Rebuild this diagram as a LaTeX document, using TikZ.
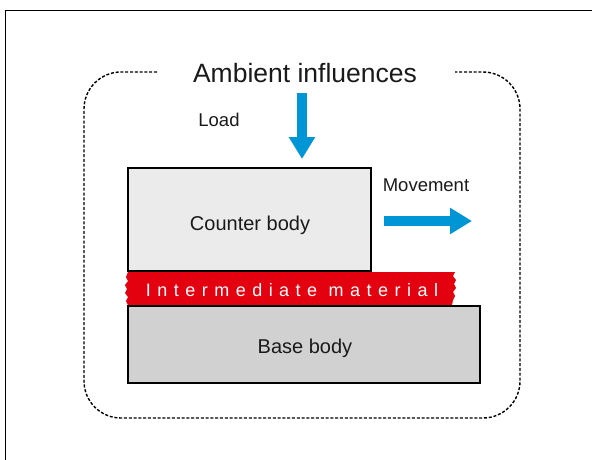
\documentclass[tikz,border=0pt]{standalone}
\usepackage{fontspec}
\setmainfont{Liberation Sans}
\newfontfamily\spacedfont[LetterSpace=36]{Liberation Sans}
\usetikzlibrary{arrows.meta}
\definecolor{arrowblue}{HTML}{0095D5}
\definecolor{bandred}{HTML}{E3000F}
\definecolor{counterfill}{HTML}{EBEBEB}
\definecolor{basefill}{HTML}{D0D1D0}
\definecolor{txt}{HTML}{1A1A1A}
\tikzset{
  body/.style={draw=black, line width=1.5pt, inner sep=0pt},
  lbl/.style={anchor=base, inner sep=0pt, text=txt},
  bluearrow/.style={draw=arrowblue, line width=10pt,
    -{Triangle[length=22pt,width=25pt]}},
  dashframe/.style={draw=black, line width=1.4pt, dash pattern=on 3pt off 1.8pt, rounded corners=37pt}
}
\begin{document}
\begin{tikzpicture}[x=1pt,y=-1pt]
\useasboundingbox (0,0) rectangle (592,459);
% outer frame
\draw[line width=1.5pt] (5.5,470) -- (5.5,10.5) -- (600,10.5);
% dashed ambient boundary
\draw[dashframe] (157,72) -- (84,72) -- (84,418) -- (520,418) -- (520,72) -- (455,72);
\node[lbl, font=\fontsize{26.5}{30}\selectfont] (title) at (305,82) {Ambient influences};
% load
\coordinate (loadtop) at (302,93);
\coordinate (loadtip) at (302,159);
\draw[bluearrow] (loadtop) -- (loadtip);
\node[lbl, font=\fontsize{18.5}{22}\selectfont] (load) at (219,126) {Load};
% intermediate material band
\fill[bandred] (128,272) -- (455,272) -- (453,276) -- (456,280) -- (454,284) -- (456,288)
  -- (453,292) -- (455,296) -- (453,300) -- (452,305) -- (128,305) -- (126,301) -- (128,297)
  -- (125,293) -- (127,289) -- (125,285) -- (128,281) -- (126,277) -- cycle;
\node[lbl, text=white, font=\spacedfont\fontsize{18}{22}\selectfont] (inter) at (292,296) {Intermediate material};
% counter body
\node[body, fill=counterfill, minimum width=243pt, minimum height=103pt] (counter) at (249.5,219.5) {};
\node[lbl, font=\fontsize{20}{24}\selectfont] (counterlbl) at (250,230) {Counter body};
% base body
\node[body, fill=basefill, minimum width=352pt, minimum height=77pt] (base) at (304,344.5) {};
\node[lbl, font=\fontsize{20}{24}\selectfont] (baselbl) at (305,353) {Base body};
% movement
\node[lbl, font=\fontsize{18.5}{22}\selectfont] (move) at (426,191) {Movement};
\coordinate (movestart) at (384,221);
\coordinate (movetip) at (472,221);
\draw[bluearrow] (movestart) -- (movetip);
\end{tikzpicture}
\end{document}
